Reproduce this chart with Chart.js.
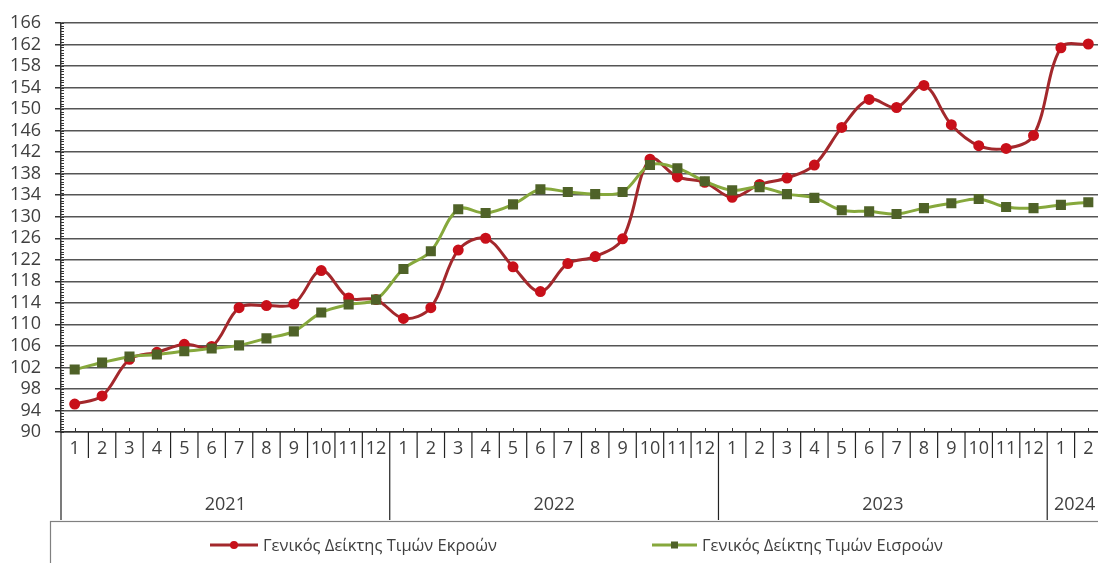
<!DOCTYPE html>
<html><head><meta charset="utf-8">
<script src="https://cdn.jsdelivr.net/npm/chart.js@4/dist/chart.umd.min.js"></script>
<style>html,body{margin:0;padding:0;background:#fff;overflow:hidden}
#wrap{position:relative;width:1110px;height:563px}</style>
</head><body><div id="wrap"><canvas id="c" width="1110" height="563"></canvas></div>
<script>
// ---- data ----
const months = ['1','2','3','4','5','6','7','8','9','10','11','12',
                '1','2','3','4','5','6','7','8','9','10','11','12',
                '1','2','3','4','5','6','7','8','9','10','11','12',
                '1','2'];
const years = ['2021','2022','2023','2024'];
const monthsPerYear = [12,12,12,2];
const outputIndex = [95.2,96.7,103.5,104.8,106.3,105.9,113.1,113.5,113.8,120.0,114.9,114.6,
                     111.1,113.1,123.8,126.0,120.7,116.1,121.3,122.6,125.9,140.7,137.4,136.4,
                     133.6,136.0,137.2,139.6,146.6,151.8,150.3,154.4,147.1,143.2,142.7,145.1,
                     161.4,162.1];
const inputIndex = [101.6,102.9,104.0,104.4,105.0,105.5,106.1,107.4,108.7,112.2,113.7,114.6,
                    120.3,123.6,131.4,130.7,132.3,135.1,134.6,134.2,134.6,139.6,139.0,136.6,
                    134.9,135.5,134.2,133.5,131.2,131.0,130.5,131.6,132.5,133.3,131.8,131.6,
                    132.2,132.7];
const seriesNames = ['Γενικός Δείκτης Τιμών Εκροών','Γενικός Δείκτης Τιμών Εισροών'];
const yMin = 90, yMax = 166, yStep = 4;

const FONT = "'Open Sans', 'DejaVu Sans', sans-serif";
const TXT = '#404040';
const RED_LINE = '#a3282c', RED_PT = '#c8101a';
const GRN_LINE = '#86a83c', GRN_PT = '#4f6228';

function line(ctx, x1, y1, x2, y2) { ctx.beginPath(); ctx.moveTo(x1, y1); ctx.lineTo(x2, y2); ctx.stroke(); }

const decor = {
  id: 'decor',
  afterDraw(chart) {
    const ctx = chart.ctx, xs = chart.scales.x, ys = chart.scales.y, a = chart.chartArea;
    const half = (xs.getPixelForValue(1) - xs.getPixelForValue(0)) / 2;
    ctx.save();
    ctx.strokeStyle = '#333'; ctx.lineWidth = 1;
    // y minor ticks
    for (let v = yMin; v <= yMax + 1e-6; v += 0.5) {
      const py = Math.round(ys.getPixelForValue(v)) + 0.5;
      line(ctx, a.left, py, a.left + 3, py);
    }
    // x small ticks at category centres
    for (let i = 0; i < months.length; i++) {
      const px = Math.round(xs.getPixelForValue(i)) + 0.5;
      line(ctx, px, a.bottom, px, a.bottom - 4);
    }
    // separators and year labels
    ctx.strokeStyle = '#222'; ctx.lineWidth = 1.2;
    ctx.font = '18px ' + FONT; ctx.fillStyle = TXT; ctx.textAlign = 'center'; ctx.textBaseline = 'middle';
    let idx = 0;
    for (let k = 0; k < years.length; k++) {
      const start = idx;
      for (let m = 0; m < monthsPerYear[k]; m++) {
        const bx = xs.getPixelForValue(idx + m) - half;
        if (m === 0) line(ctx, bx, a.bottom, bx, a.bottom + 88);
        else line(ctx, bx, a.bottom, bx, a.bottom + 26);
      }
      idx += monthsPerYear[k];
      const x0 = xs.getPixelForValue(start) - half, x1 = xs.getPixelForValue(idx - 1) + half;
      ctx.fillText(years[k], (x0 + x1) / 2, a.bottom + 73);
    }
    const endX = xs.getPixelForValue(idx - 1) + half;
    line(ctx, endX, a.bottom, endX, a.bottom + 88);
    // legend box
    const top = a.bottom + 89;
    ctx.strokeStyle = '#808080'; ctx.lineWidth = 1.2;
    ctx.strokeRect(50.5, top + 0.5, chart.width, 60);
    // legend items
    ctx.font = '16.5px ' + FONT; ctx.textAlign = 'left'; ctx.textBaseline = 'middle';
    const ly = top + 24;
    const ds = chart.data.datasets;
    const starts = [210, 652], syms = [48, 45];
    ds.forEach((d, i) => {
      const cx = starts[i], sym = syms[i];
      ctx.strokeStyle = d.borderColor; ctx.lineWidth = 3;
      line(ctx, cx, ly, cx + sym, ly);
      ctx.fillStyle = d.pointBackgroundColor;
      const mx = cx + sym / 2;
      if (d.pointStyle === 'rect') ctx.fillRect(mx - 3.5, ly - 3.5, 7, 7);
      else { ctx.beginPath(); ctx.arc(mx, ly, 4, 0, Math.PI * 2); ctx.fill(); }
      ctx.fillStyle = TXT;
      ctx.fillText(d.label, cx + sym + 5, ly + 1);
    });
    ctx.restore();
  }
};

new Chart(document.getElementById('c'), {
  type: 'line',
  data: {
    labels: months,
    datasets: [
      { label: seriesNames[0], data: outputIndex, borderColor: RED_LINE, backgroundColor: RED_PT,
        pointBackgroundColor: RED_PT, pointBorderColor: RED_PT, pointStyle: 'circle', pointRadius: 4,
        borderWidth: 3, tension: 0.35, order: 1 },
      { label: seriesNames[1], data: inputIndex, borderColor: GRN_LINE, backgroundColor: GRN_PT,
        pointBackgroundColor: GRN_PT, pointBorderColor: GRN_PT, pointStyle: 'rect', pointRadius: 5,
        borderWidth: 3, tension: 0.35, order: 0 }
    ]
  },
  options: {
    responsive: false, animation: false, devicePixelRatio: 1,
    layout: { padding: { top: 8, right: 8, bottom: 43, left: 0 } },
    plugins: { legend: { display: false }, tooltip: { enabled: false } },
    scales: {
      x: {
        type: 'category', offset: true,
        grid: { drawOnChartArea: false, drawTicks: false, offset: true },
        border: { color: '#333', width: 1.5 },
        ticks: { color: TXT, font: { size: 18, family: FONT }, padding: 6, maxRotation: 0, autoSkip: false },
        afterFit(s) { s.height = 88; }
      },
      y: {
        min: yMin, max: yMax,
        grid: { color: '#555', lineWidth: 1.5, tickLength: 6, tickColor: '#333' },
        border: { color: '#333', width: 1.5 },
        ticks: { stepSize: yStep, autoSkip: false, maxTicksLimit: 100, color: TXT,
                 font: { size: 18, family: FONT, lineHeight: 1.0 }, padding: 14 },
        afterFit(s) { s.width = 61; }
      }
    }
  },
  plugins: [decor]
});
</script></body></html>
